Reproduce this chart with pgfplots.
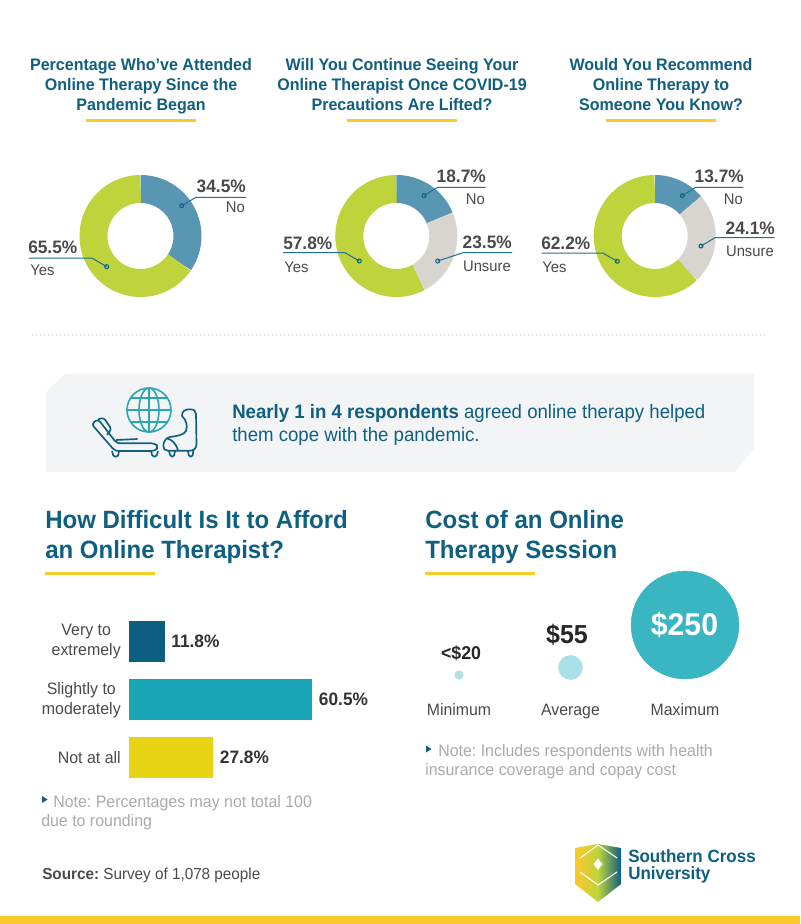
\documentclass[border=0pt]{standalone}
\usepackage{fontspec}
\setmainfont[FakeStretch=0.96]{Liberation Sans}
\usepackage{pgfplots}
\pgfplotsset{compat=1.18}
\usetikzlibrary{calc}
\definecolor{head}{HTML}{0F5F80}
\definecolor{accent}{HTML}{FCC92B}
\definecolor{dgray}{HTML}{4A4A4A}
\definecolor{note}{HTML}{ABABAB}
\definecolor{cblue}{HTML}{5896B4}
\definecolor{cgreen}{HTML}{BED33C}
\definecolor{cgrey}{HTML}{D8D5D0}
\definecolor{lead}{HTML}{1F6F8F}
\definecolor{band}{HTML}{F2F4F6}
\definecolor{tealbar}{HTML}{1AA5B6}
\definecolor{navybar}{HTML}{0D5F82}
\definecolor{yellowbar}{HTML}{E8D414}
\definecolor{bigb}{HTML}{3AB5C2}
\definecolor{midb}{HTML}{A9E0E9}
\definecolor{smallb}{HTML}{B2E0E4}
\definecolor{globe}{HTML}{2CA6AE}
\newcommand\px[1]{\fontsize{\fpeval{#1*0.75}}{\fpeval{#1*0.9}}\selectfont\frenchspacing}
% text: colour, size in px, anchor, position, text
\newcommand\T[5]{\node[text=#1,font=\px{#2},anchor=#3,inner sep=0,yshift=-\fpeval{#2*0.12}pt] at (#4) {#5};}
% ring segment: centre x, centre y, from %, to %, colour
\newcommand\seg[5]{\addplot[line width=21pt,color=#5,no marks,domain=#3:#4,samples=60,line join=round] ({#1+47*cos(90-3.6*x)},{#2-47*sin(90-3.6*x)});}
\newcommand\leadl[5]{\draw[lead,line width=0.75pt] (#1,#3) -- (#2,#3) -- (#4,#5);\draw[head,line width=0.75pt] (#4,#5) circle[radius=2];}
\newcommand\ttl[4]{\T{head}{16.7}{mid}{#1,64}{\bfseries #2}
 \T{head}{16.7}{mid}{#1,84}{\bfseries #3}
 \T{head}{16.7}{mid}{#1,104}{\bfseries #4}
 \fill[accent] (#1-55,119) rectangle (#1+55,122);}
\newcommand\val[3]{\T{dgray}{18}{#1}{#2}{\bfseries #3}}
\newcommand\cat[3]{\T{dgray}{15.4}{#1}{#2}{#3}}
\begin{document}
\begin{tikzpicture}
\useasboundingbox (0,0) rectangle (600pt,693pt);
\fill[white] (0,0) rectangle (600pt,693pt);
\begin{axis}[name=page,at={(0,0)},anchor=south west,scale only axis,width=600pt,height=693pt,
  xmin=0,xmax=800,ymin=0,ymax=924,y dir=reverse,hide axis,clip=false]
% titles
\ttl{141}{Percentage Who've Attended}{Online Therapy Since the}{Pandemic Began}
\ttl{402}{Will You Continue Seeing Your}{Online Therapist Once COVID-19}{Precautions Are Lifted?}
\ttl{661}{Would You Recommend}{Online Therapy to}{Someone You Know?}
% donuts
\seg{140.5}{236}{0}{34.5}{cblue}
\seg{140.5}{236}{34.5}{100}{cgreen}
\seg{396.3}{236}{0}{18.7}{cblue}
\seg{396.3}{236}{18.7}{42.2}{cgrey}
\seg{396.3}{236}{42.2}{100}{cgreen}
\seg{654.7}{236}{0}{13.7}{cblue}
\seg{654.7}{236}{13.7}{37.8}{cgrey}
\seg{654.7}{236}{37.8}{100}{cgreen}
% donut labels
\leadl{246}{196}{197.3}{181.7}{205.7}
\leadl{29}{92}{258}{106.7}{266.7}
\leadl{283}{345}{252.7}{359.3}{261}
\leadl{485.7}{437.7}{187.3}{424}{195.7}
\leadl{512}{463}{252.7}{437.7}{261}
\leadl{743.3}{695.7}{187.3}{682.3}{195.7}
\leadl{774.7}{715}{237.7}{701}{246}
\leadl{541.7}{602.7}{253}{617.3}{261.3}
\val{mid east}{246,186}{34.5\%}\cat{mid east}{245,207}{No}
\val{mid west}{28,247}{65.5\%}\cat{mid west}{30,269.5}{Yes}
\val{mid west}{283,243}{57.8\%}\cat{mid west}{284,266.7}{Yes}
\val{mid east}{486,176}{18.7\%}\cat{mid east}{485,199}{No}
\val{mid east}{512,242}{23.5\%}\cat{mid east}{511,265.7}{Unsure}
\val{mid east}{744,176}{13.7\%}\cat{mid east}{743,199}{No}
\val{mid east}{775,227.7}{24.1\%}\cat{mid east}{774,250.7}{Unsure}
\val{mid west}{541,243}{62.2\%}\cat{mid west}{542,266.7}{Yes}
% separator
\draw[line width=1pt,dotted,black!12] (32,335) -- (768,335);
% band
\fill[band] (46,392) -- (65,373.5) -- (754,373.5) -- (754,448) -- (735,472) -- (46,472) -- cycle;
\T{head}{19.4}{mid west}{232,412}{\textbf{Nearly 1 in 4 respondents} agreed online therapy helped}
\T{head}{19.4}{mid west}{232,435}{them cope with the pandemic.}
% icon: globe
\begin{scope}[globe,line width=1.2pt]
\draw (149,410) circle[radius=22];
\draw (149,410) ellipse[x radius=10,y radius=22];
\draw (149,388) -- (149,432) (127,410) -- (171,410) (131,398) -- (167,398) (131,422) -- (167,422);
\end{scope}
% icon: chaise and chair
\begin{scope}[head,line width=1.25pt,line join=round]
\draw[rounded corners=2.5pt] (91.5,424) -- (98,419) -- (116.7,443.3) -- (155,443.3) -- (158.5,447) -- (155,451) -- (115,451) -- cycle;
\draw[rounded corners=2pt] (98,419.5) -- (103.5,417.5) -- (111.5,429) -- (107,435);
\draw (116,440) -- (137.5,439);
\draw[rounded corners=1pt] (112,451) -- (113.5,456.5) -- (118,456.5) -- (119,451);
\draw[rounded corners=1pt] (151,451) -- (152.5,456.5) -- (156.5,456.5) -- (158,451);
\draw (163.3,446) .. controls (163.5,441) and (166,438) .. (170,437) .. controls (177,436) and (184,435) .. (186,431) .. controls (188,425) and (186,420) .. (182,416) .. controls (182,411) and (185,409.3) .. (190,409.3) .. controls (194,409.3) and (196,411) .. (196,414) -- (196.5,444) .. controls (196.5,448) and (194,450.7) .. (190,450.7) -- (168,450.7) .. controls (165,450.7) and (163.3,449) .. (163.3,446) -- cycle;
\draw (167.5,438.5) .. controls (172,440) and (176,443) .. (178,450.7);
\draw[rounded corners=1pt] (169,451) -- (170.5,456.5) -- (174,456.5) -- (175,451);
\draw[rounded corners=1pt] (188,451) -- (189,456.5) -- (192.5,456.5) -- (193.5,450);
\end{scope}
% section headings
\T{head}{25}{mid west}{45,521}{\bfseries How Difficult Is It to Afford}
\T{head}{25}{mid west}{45,551}{\bfseries an Online Therapist?}
\T{head}{25}{mid west}{425,521}{\bfseries Cost of an Online}
\T{head}{25}{mid west}{425,551}{\bfseries Therapy Session}
\fill[accent] (45,572) rectangle (155,575);
\fill[accent] (425,572) rectangle (535,575);
% bubbles
\addplot[only marks,mark=*,mark size=3.2pt,color=smallb] coordinates {(459,675)};
\addplot[only marks,mark=*,mark size=9pt,color=midb] coordinates {(570.5,667.5)};
\addplot[only marks,mark=*,mark size=40.4pt,color=bigb] coordinates {(685,625)};
\coordinate (p250) at (684.5,627);
\T{black!85}{18.5}{mid}{461,653}{\bfseries <\$20}
\T{black!85}{26}{mid}{567,635.5}{\bfseries \$55}
\T{dgray}{16.5}{mid}{459,709}{Minimum}
\T{dgray}{16.5}{mid}{570.5,709}{Average}
\T{dgray}{16.5}{mid}{685,709}{Maximum}
% notes
\fill[head] (426,745.5) -- (431.5,749) -- (426,752.5) -- cycle;
\T{note}{16.6}{mid west}{438,750}{Note: Includes respondents with health}
\T{note}{16.6}{mid west}{425,769}{insurance coverage and copay cost}
\fill[head] (42,796) -- (47.5,799.5) -- (42,803) -- cycle;
\T{note}{16.6}{mid west}{53,801}{Note: Percentages may not total 100}
\T{note}{16.6}{mid west}{41,820}{due to rounding}
\T{dgray}{15.9}{mid west}{42,873}{\textbf{Source:} Survey of 1,078 people}
% logo
\shade[left color=accent,right color=cgreen] (575,848) -- (598,844) -- (598,902) -- (575,884) -- cycle;
\shade[left color=cgreen,right color=head] (598,844) -- (621,848) -- (621,884) -- (598,902) -- cycle;
\fill[white] (598,858.5) -- (602.5,864) -- (598,870) -- (593.5,864) -- cycle;
\draw[white,line width=0.8pt] (580,872) -- (598,885) -- (617,872);
\draw[white,line width=0.8pt] (580,858) -- (598,845) -- (617,858);
\T{head}{17.7}{mid west}{628,856}{\bfseries Southern Cross}
\T{head}{17.7}{mid west}{628,873}{\bfseries University}
% footer
\fill[accent] (0,916) rectangle (800,924);
\end{axis}
\T{white}{31.5}{mid}{p250}{\bfseries \$250}
\begin{axis}[at={(96.75pt,233.4pt)},anchor=north west,scale only axis,width=181.8pt,height=130.5pt,
  xbar,bar width=30.75pt,bar shift=0pt,xmin=0,xmax=80,ymin=-0.5,ymax=2.5,y dir=reverse,clip=false,
  axis line style={draw=none},xtick=\empty,ytick={0,1,2},major tick length=0pt,
  yticklabels={{Very to\\extremely},{Slightly to\\moderately},{Not at all}},
  yticklabel style={align=center,font=\px{16.6},text=dgray,inner sep=0pt,xshift=-6pt},
  point meta=x,
  nodes near coords={\pgfmathprintnumber[fixed,precision=1,zerofill,assume math mode=true]{\pgfplotspointmeta}\%},
  nodes near coords align={horizontal},
  every node near coord/.append style={font=\px{18}\bfseries,text=black!80,inner sep=0pt,xshift=4.8pt}]
\addplot[draw=none,fill=navybar] coordinates {(11.8,0)};
\addplot[draw=none,fill=tealbar] coordinates {(60.5,1)};
\addplot[draw=none,fill=yellowbar] coordinates {(27.8,2)};
\end{axis}
\end{tikzpicture}
\end{document}
